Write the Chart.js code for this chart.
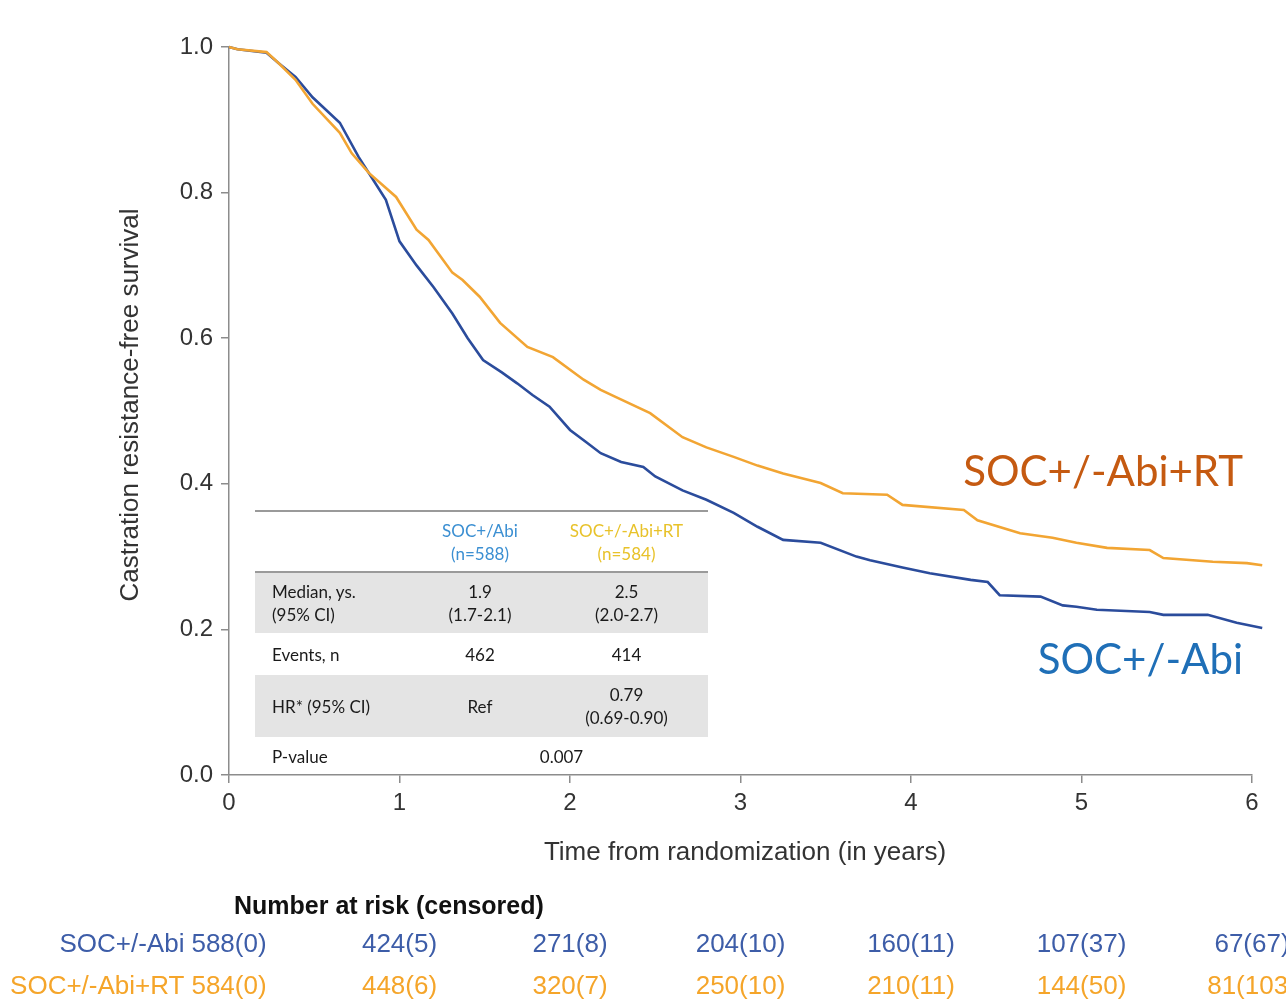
<!DOCTYPE html>
<html>
  <head>
    <title>Castration resistance-free survival</title>
    <script src="https://cdn.jsdelivr.net/npm/chart.js"></script>
    <style>
      body { margin: 0; background: #fff; }
      #wrap { position: relative; width: 1286px; height: 1004px; }
      #stats {
        position: absolute; left: 255px; top: 510px; width: 453px;
        border-collapse: collapse; font-family: Lato, sans-serif;
        font-size: 17px; color: #1a1a1a;
      }
      #stats td { padding: 0; line-height: 23px; text-align: center; }
      #stats td.lbl { text-align: left; padding-left: 17px; }
      #stats tr.head { height: 61px; border-top: 2px solid #9a9a9a; border-bottom: 2px solid #9a9a9a; }
      #stats tr.grey { background: #e4e4e4; }
      .abi { color: #3b8fd2; }
      .rt { color: #e8c22a; }
    </style>
  </head>
  <body>
    <div id="wrap">
      <canvas id="km" width="1286" height="1004"></canvas>
      <table id="stats">
        <colgroup><col style="width:160px"><col style="width:130px"><col style="width:163px"></colgroup>
        <tr class="head"><td></td><td class="abi">SOC+/Abi<br>(n=588)</td><td class="rt">SOC+/-Abi+RT<br>(n=584)</td></tr>
        <tr class="grey" style="height:61px"><td class="lbl">Median, ys.<br>(95% CI)</td><td>1.9<br>(1.7-2.1)</td><td>2.5<br>(2.0-2.7)</td></tr>
        <tr style="height:42px"><td class="lbl">Events, n</td><td>462</td><td>414</td></tr>
        <tr class="grey" style="height:62px"><td class="lbl">HR* (95% CI)</td><td>Ref</td><td>0.79<br>(0.69-0.90)</td></tr>
        <tr style="height:38px"><td class="lbl">P-value</td><td colspan="2">0.007</td></tr>
      </table>
    </div>

    <script>
      // Kaplan-Meier estimates, years since randomization
      const abiYears = [0, 0.05, 0.22, 0.29, 0.39, 0.49, 0.65, 0.76, 0.82, 0.92, 1.0, 1.1, 1.2, 1.31, 1.4, 1.49, 1.6, 1.69, 1.78, 1.88, 2.0, 2.09, 2.18, 2.3, 2.43, 2.5, 2.66, 2.8, 2.96, 3.1, 3.25, 3.47, 3.68, 3.76, 3.95, 4.11, 4.35, 4.45, 4.52, 4.76, 4.89, 4.97, 5.09, 5.4, 5.48, 5.74, 5.91, 6.06];
      const abiSurvival = [1.0, 0.997, 0.992, 0.978, 0.959, 0.931, 0.896, 0.849, 0.827, 0.79, 0.733, 0.7, 0.67, 0.634, 0.6, 0.57, 0.553, 0.538, 0.522, 0.506, 0.474, 0.458, 0.442, 0.43, 0.423, 0.41, 0.391, 0.378, 0.36, 0.341, 0.323, 0.319, 0.3, 0.295, 0.285, 0.277, 0.268, 0.265, 0.247, 0.245, 0.233, 0.231, 0.227, 0.224, 0.22, 0.22, 0.209, 0.202];

      const rtYears = [0, 0.05, 0.22, 0.29, 0.39, 0.49, 0.65, 0.72, 0.82, 0.98, 1.1, 1.17, 1.31, 1.37, 1.47, 1.59, 1.75, 1.9, 2.08, 2.18, 2.27, 2.47, 2.66, 2.8, 2.96, 3.1, 3.25, 3.47, 3.6, 3.86, 3.95, 4.31, 4.39, 4.64, 4.83, 4.97, 5.15, 5.4, 5.48, 5.77, 5.97, 6.06];
      const rtSurvival = [1.0, 0.997, 0.993, 0.978, 0.955, 0.922, 0.882, 0.854, 0.827, 0.794, 0.749, 0.735, 0.69, 0.68, 0.657, 0.621, 0.588, 0.574, 0.543, 0.529, 0.519, 0.497, 0.464, 0.45, 0.437, 0.425, 0.414, 0.401, 0.387, 0.385, 0.371, 0.364, 0.35, 0.332, 0.326, 0.319, 0.312, 0.309, 0.298, 0.293, 0.291, 0.288];

      const riskYears = [0, 1, 2, 3, 4, 5, 6];
      const abiAtRisk = [588, 424, 271, 204, 160, 107, 67];
      const abiCensored = [0, 5, 8, 10, 11, 37, 67];
      const rtAtRisk = [584, 448, 320, 250, 210, 144, 81];
      const rtCensored = [0, 6, 7, 10, 11, 50, 103];

      const BLUE = "#2b4c9c";
      const ORANGE = "#f2a533";
      const AXIS = "#8c8c8c";
      const ARIAL = "'Liberation Sans', Arial, sans-serif";

      const toPoints = (xs, ys) => xs.map((x, i) => ({ x: x, y: ys[i] }));

      // titles, curve labels and the number-at-risk table
      const extraText = {
        id: "extraText",
        afterDraw(chart) {
          const ctx = chart.ctx;
          const x = chart.scales.x;
          ctx.save();

          ctx.fillStyle = "#333";
          ctx.font = "26px " + ARIAL;
          ctx.textAlign = "center";
          ctx.textBaseline = "middle";
          ctx.fillText("Time from randomization (in years)", 745, 853);

          ctx.translate(131, 405);
          ctx.rotate(-Math.PI / 2);
          ctx.fillText("Castration resistance-free survival", 0, 0);
          ctx.setTransform(1, 0, 0, 1, 0, 0);

          ctx.font = "42px Lato, sans-serif";
          ctx.textAlign = "right";
          ctx.fillStyle = "#c55a11";
          ctx.fillText("SOC+/-Abi+RT", 1243, 472);
          ctx.fillStyle = "#1f6fb7";
          ctx.fillText("SOC+/-Abi", 1243, 660);

          ctx.fillStyle = "#111";
          ctx.font = "bold 25px " + ARIAL;
          ctx.textAlign = "left";
          ctx.fillText("Number at risk (censored)", 234, 907);

          const rows = [
            { name: "SOC+/-Abi", n: abiAtRisk, c: abiCensored, y: 945, color: "#3d5da8" },
            { name: "SOC+/-Abi+RT", n: rtAtRisk, c: rtCensored, y: 987, color: "#f5a52a" },
          ];
          ctx.font = "26px " + ARIAL;
          rows.forEach((r) => {
            ctx.fillStyle = r.color;
            riskYears.forEach((t, i) => {
              const px = x.getPixelForValue(t);
              const txt = r.n[i] + "(" + r.c[i] + ")";
              ctx.textAlign = "center";
              ctx.fillText(txt, px, r.y);
              if (i === 0) {
                const w = ctx.measureText(txt).width;
                ctx.textAlign = "right";
                ctx.fillText(r.name, px - w / 2 - 7, r.y);
              }
            });
          });
          ctx.restore();
        },
      };

      new Chart(document.getElementById("km"), {
        type: "line",
        data: {
          datasets: [
            {
              label: "SOC+/-Abi+RT",
              data: toPoints(rtYears, rtSurvival),
              borderColor: ORANGE,
              borderWidth: 2.6,
              pointRadius: 0,
              tension: 0,
              clip: false,
            },
            {
              label: "SOC+/-Abi",
              data: toPoints(abiYears, abiSurvival),
              borderColor: BLUE,
              borderWidth: 2.6,
              pointRadius: 0,
              tension: 0,
              clip: false,
            },
          ],
        },
        options: {
          responsive: false,
          animation: false,
          layout: { padding: { top: 47, right: 34 } },
          plugins: { legend: { display: false }, tooltip: { enabled: false } },
          scales: {
            x: {
              type: "linear",
              min: 0,
              max: 6,
              afterFit: (s) => { s.height = 229; },
              ticks: { stepSize: 1, color: "#333", padding: 6, font: { family: ARIAL, size: 24 } },
              grid: { drawOnChartArea: false, tickLength: 8, color: AXIS, lineWidth: 1.5 },
              border: { color: AXIS, width: 1.5 },
            },
            y: {
              min: 0,
              max: 1,
              afterFit: (s) => { s.width = 229; },
              ticks: {
                stepSize: 0.2,
                color: "#333",
                padding: 8,
                font: { family: ARIAL, size: 24 },
                callback: (v) => v.toFixed(1),
              },
              grid: { drawOnChartArea: false, tickLength: 8, color: AXIS, lineWidth: 1.5 },
              border: { color: AXIS, width: 1.5 },
            },
          },
        },
        plugins: [extraText],
      });
    </script>
  </body>
</html>
